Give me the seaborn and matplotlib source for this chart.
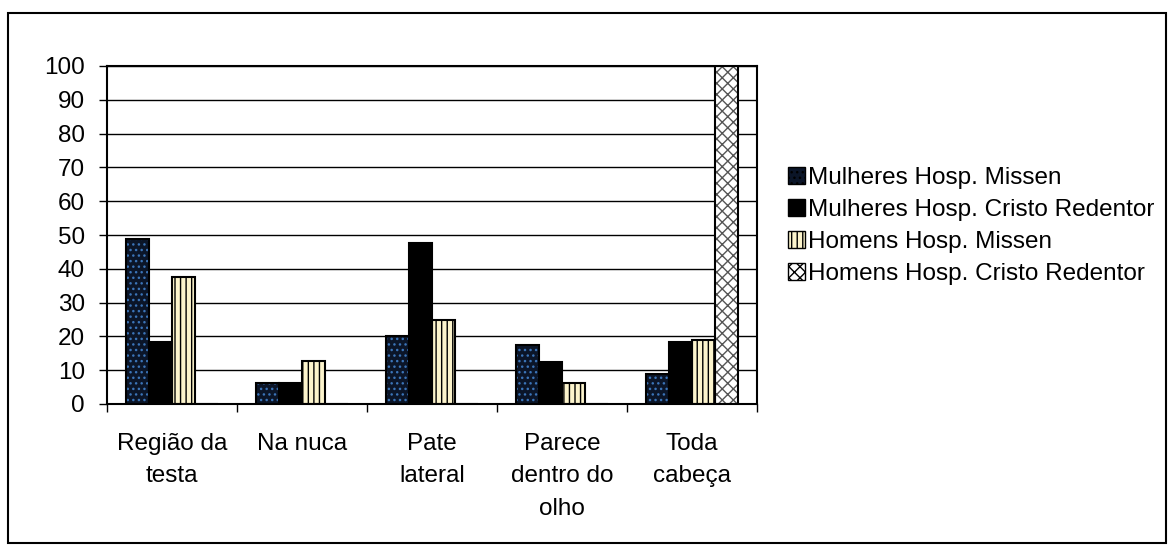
import matplotlib
matplotlib.use("Agg")
import pandas as pd
import matplotlib.pyplot as plt
import seaborn as sns
from matplotlib.patches import Rectangle, Patch

categorias = ["Região da\ntesta", "Na nuca", "Pate\nlateral", "Parece\ndentro do\nolho", "Toda\ncabeça"]
series = ["Mulheres Hosp. Missen", "Mulheres Hosp. Cristo Redentor",
          "Homens Hosp. Missen", "Homens Hosp. Cristo Redentor"]
mulheres_missen = [48.8, 6.3, 20.0, 17.6, 9.0]
mulheres_cristo = [18.3, 6.3, 47.5, 12.4, 18.3]
homens_missen = [37.5, 12.7, 25.0, 6.3, 18.8]
homens_cristo = [0, 0, 0, 0, 100]

df = pd.DataFrame({
    "categoria": categorias * 4,
    "serie": sum([[s] * 5 for s in series], []),
    "valor": mulheres_missen + mulheres_cristo + homens_missen + homens_cristo,
})

# estilo de cada série: (fundo, cor da textura, textura)
ESTILO = [
    ("#0B1528", "#3B74B8", "..."),
    ("#000000", "#000000", None),
    ("#FCF4CC", "#000000", "|||"),
    ("#FFFFFF", "#555555", "xxx"),
]
FS = 17.5

sns.set_style("white")
plt.rcParams["font.family"] = ["Liberation Sans", "DejaVu Sans"]
plt.rcParams["hatch.linewidth"] = 1.0
plt.rcParams["text.color"] = "black"
plt.rcParams["xtick.labelcolor"] = "black"
plt.rcParams["ytick.labelcolor"] = "black"

fig = plt.figure(figsize=(11.74, 5.52), dpi=100)
ax = fig.add_axes([107/1174, 1-404/552, 650/1174, 338/552])

# 1ª passada: preenchimento + textura
sns.barplot(data=df, x="categoria", y="valor", hue="serie", hue_order=series,
            width=0.71, ax=ax, legend=False, saturation=1)
for cont, (fc, hc, h) in zip(ax.containers, ESTILO):
    for p in cont:
        p.set_facecolor(fc); p.set_edgecolor(hc); p.set_linewidth(0)
        p.set_hatch(h)
# 2ª passada: contorno preto
sns.barplot(data=df, x="categoria", y="valor", hue="serie", hue_order=series,
            width=0.71, ax=ax, legend=False, saturation=1)
for cont in ax.containers[4:]:
    for p in cont:
        p.set_facecolor("none"); p.set_edgecolor("black"); p.set_linewidth(1.5)

ax.set_ylim(0, 100)
ax.set_xlim(-0.5, 4.5)
ax.set_yticks(range(0, 101, 10))
ax.yaxis.grid(True, color="black", linewidth=1)
ax.set_axisbelow(True)
ax.set_xticks([i - 0.5 for i in range(6)])
ax.set_xticklabels([])
ax.set_xticks(range(5), minor=True)
ax.set_xticklabels(categorias, minor=True, fontsize=FS, linespacing=1.6, va="top", color="black")
ax.tick_params(axis="x", which="major", direction="out", length=6, width=1, color="black", bottom=True)
ax.tick_params(axis="x", which="minor", length=0, pad=21)
ax.tick_params(axis="y", direction="out", length=6, width=1, color="black", left=True,
               labelsize=FS, pad=10, labelcolor="black")
ax.set_xlabel(""); ax.set_ylabel("")
for s in ax.spines.values():
    s.set_color("black"); s.set_linewidth(1.5); s.set_visible(True)

handles = [Patch(facecolor=fc, edgecolor="black", hatch=h, linewidth=1) for fc, hc, h in ESTILO]
fig.legend(handles, series, loc="center left", bbox_to_anchor=(788/1174, 1-226/552),
           frameon=False, fontsize=FS, handlelength=0.7, handleheight=0.7,
           handletextpad=0.12, labelspacing=0.4, borderpad=0, borderaxespad=0,
           labelcolor="black")

fig.patches.append(Rectangle((8/1174, 1-543/552), 1158/1174, 530/552,
                             transform=fig.transFigure, fill=False,
                             edgecolor="black", linewidth=1.5))

fig.savefig("out.png", dpi=100, facecolor="white")
